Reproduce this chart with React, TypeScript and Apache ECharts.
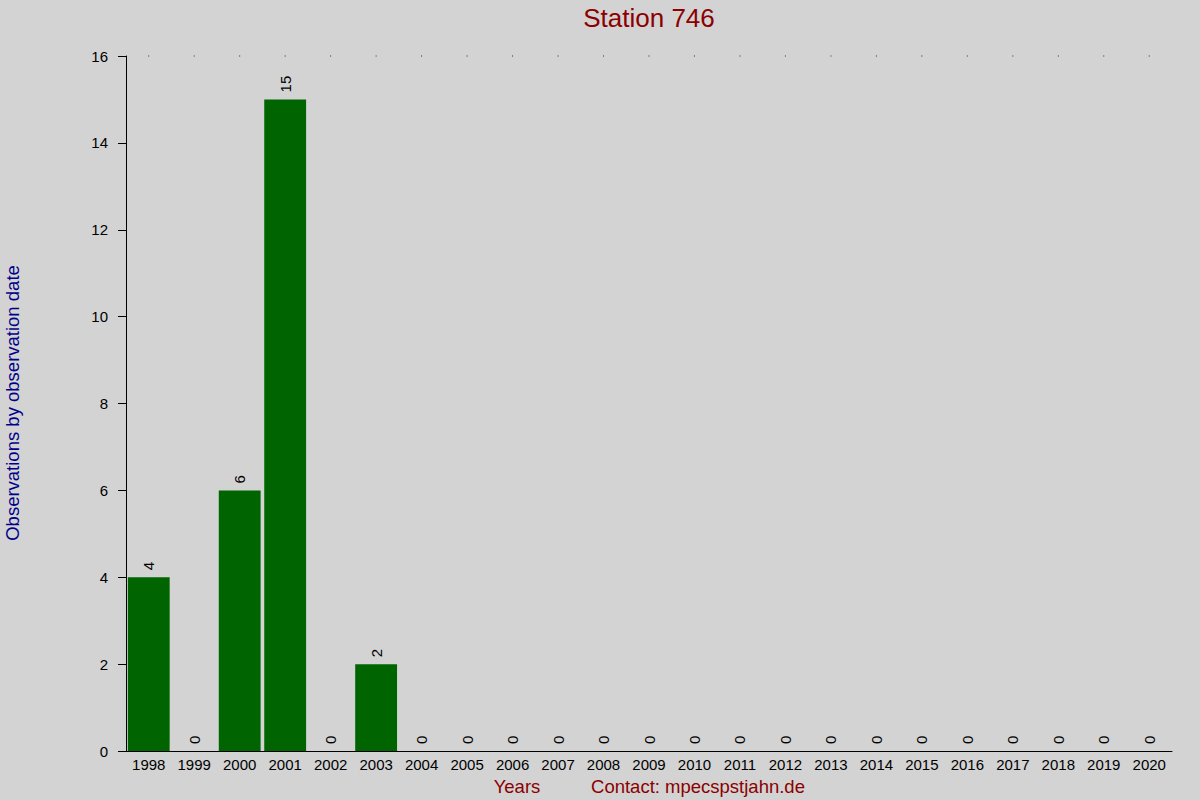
import React, { useEffect, useRef } from "react";
import * as echarts from "echarts";

const years = ["1998","1999","2000","2001","2002","2003","2004","2005","2006","2007","2008","2009","2010","2011","2012","2013","2014","2015","2016","2017","2018","2019","2020"];
const counts = [4,0,6,15,0,2,0,0,0,0,0,0,0,0,0,0,0,0,0,0,0,0,0];
const yTicks = [0, 2, 4, 6, 8, 10, 12, 14, 16];
const topDots = years.map(() => 16);

export default function App() {
  const ref = useRef<HTMLDivElement>(null);
  useEffect(() => {
    const chart = echarts.init(ref.current!, null, { renderer: "svg" });
    const font = "Liberation Sans, Arial, sans-serif";
    chart.setOption({
      animation: false,
      backgroundColor: "#d3d3d3",
      textStyle: { fontFamily: font },
      graphic: [
        { type: "text", x: 649, y: 18, style: { text: "Station 746", fill: "#8b0000", font: `26px ${font}`, textAlign: "center", textVerticalAlign: "middle" } },
        { type: "text", x: 517, y: 786, style: { text: "Years", fill: "#8b0000", font: `18.5px ${font}`, textAlign: "center", textVerticalAlign: "middle" } },
        { type: "text", x: 698, y: 786, style: { text: "Contact: mpecspstjahn.de", fill: "#8b0000", font: `18.5px ${font}`, textAlign: "center", textVerticalAlign: "middle" } },
        { type: "text", x: 12, y: 403, rotation: Math.PI / 2, style: { text: "Observations by observation date", fill: "#00008b", font: `18.5px ${font}`, textAlign: "center", textVerticalAlign: "middle" } },
      ],
      grid: { left: 126, right: 28, top: 56, bottom: 49, containLabel: false },
      xAxis: {
        type: "category",
        data: years,
        axisLine: { show: true, lineStyle: { color: "#000", width: 1 } },
        axisTick: { show: false },
        axisLabel: { color: "#000", fontSize: 15, margin: 6, interval: 0, fontFamily: font },
        splitLine: { show: false },
      },
      yAxis: {
        type: "value",
        min: 0,
        max: 16,
        interval: 2,
        axisLine: { show: true, lineStyle: { color: "#000", width: 1 } },
        axisTick: { show: true, length: 8, lineStyle: { color: "#000" } },
        axisLabel: { color: "#000", fontSize: 15, margin: 18, fontFamily: font, formatter: (v: number) => (yTicks.includes(v) ? String(v) : "") },
        splitLine: { show: false },
      },
      series: [
        {
          type: "bar",
          data: counts,
          barCategoryGap: "8%",
          itemStyle: { color: "#006400" },
          label: {
            show: true,
            position: "top",
            rotate: 90,
            align: "left",
            verticalAlign: "middle",
            distance: 7,
            color: "#000",
            fontSize: 15,
            fontFamily: font,
          },
        },
        {
          type: "scatter",
          data: topDots,
          symbol: "rect",
          symbolSize: 1,
          itemStyle: { color: "#000" },
          silent: true,
        },
      ],
    });
    return () => chart.dispose();
  }, []);
  return <div ref={ref} style={{ width: 1200, height: 800, position: "absolute", left: 0, top: 0 }} />;
}
